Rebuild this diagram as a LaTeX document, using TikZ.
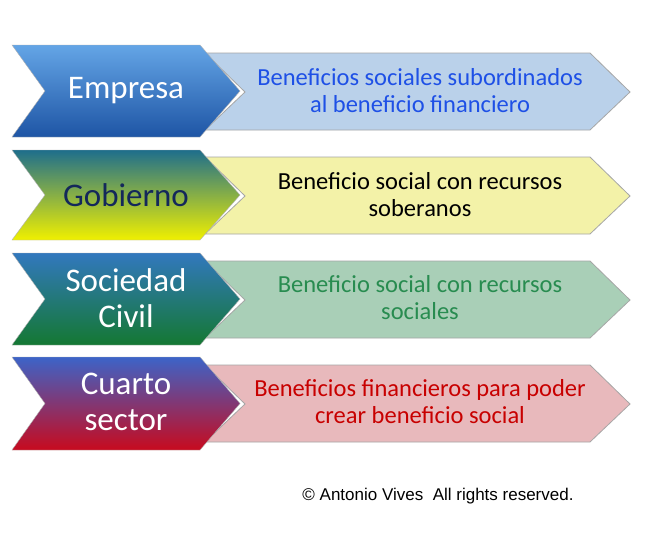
\documentclass[tikz,border=0pt]{standalone}
\usepackage{fontspec}
\setmainfont{Carlito}
\begin{document}
\begin{tikzpicture}[x=1pt,y=-1pt,
  lt/.style={font=\fontsize{33}{36}\selectfont,white,align=center},
  rt/.style={font=\fontsize{24.5}{27}\selectfont,align=center},
  edge/.style={draw=gray!70,line width=0.8pt}]
\useasboundingbox (0,0) rectangle (646,541);
\fill[white] (0,0) rectangle (646,541);
\def\L#1#2#3#4{%
 \shade[top color=#3,bottom color=#4,draw=gray!60] (12,#1) -- (200,#1) -- (240,{(#1+#2)/2}) -- (200,#2) -- (12,#2) -- (45,{(#1+#2)/2}) -- cycle;}
\path[edge,fill={rgb,255:red,186;green,209;blue,234}] (205,53) -- (590,53) -- (630,92) -- (590,130) -- (205,130) -- (245,92) -- cycle;
\path[edge,fill={rgb,255:red,243;green,242;blue,168}] (205,157) -- (590,157) -- (630,196) -- (590,234) -- (205,234) -- (245,196) -- cycle;
\path[edge,fill={rgb,255:red,169;green,207;blue,183}] (205,261) -- (590,261) -- (630,300) -- (590,338) -- (205,338) -- (245,300) -- cycle;
\path[edge,fill={rgb,255:red,232;green,185;blue,188}] (205,365) -- (590,365) -- (630,404) -- (590,442) -- (205,442) -- (245,404) -- cycle;
\L{45}{137}{{rgb,255:red,100;green,165;blue,230}}{{rgb,255:red,30;green,85;blue,165}}
\L{150}{240}{{rgb,255:red,30;green,110;blue,140}}{{rgb,255:red,240;green,240;blue,0}}
\L{253}{345}{{rgb,255:red,50;green,120;blue,190}}{{rgb,255:red,20;green,120;blue,50}}
\L{357}{450}{{rgb,255:red,60;green,100;blue,200}}{{rgb,255:red,200;green,10;blue,30}}
\node[lt] (l1) at (126,91) {Empresa};
\node[lt,text={rgb,255:red,20;green,40;blue,90}] (l2) at (126,195) {Gobierno};
\node[lt] (l3) at (126,298) {Sociedad\\Civil};
\node[lt] (l4) at (126,402) {Cuarto\\sector};
\node[rt,text={rgb,255:red,30;green,80;blue,230}] (r1) at (420,91) {Beneficios sociales subordinados\\al beneficio financiero};
\node[rt] (r2) at (420,195) {Beneficio social con recursos\\soberanos};
\node[rt,text={rgb,255:red,40;green,140;blue,80}] (r3) at (420,298) {Beneficio social con recursos\\sociales};
\node[rt,text={rgb,255:red,200;green,0;blue,0}] (r4) at (420,402) {Beneficios financieros para poder\\crear beneficio social};
\node[font=\fontsize{17}{19}\selectfont] (c) at (438,496) {\fontspec{Liberation Sans}© Antonio Vives\ \ All rights reserved.};
\end{tikzpicture}
\end{document}
